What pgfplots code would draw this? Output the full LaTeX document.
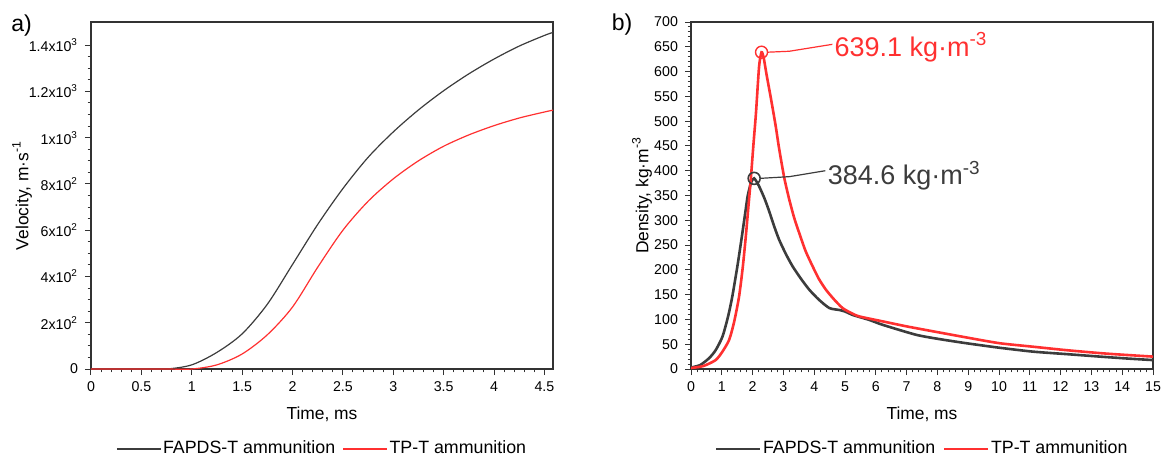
\documentclass[border=0pt]{standalone}
\usepackage{fontspec}
\setmainfont{Liberation Sans}
\usepackage{pgfplots}
\pgfplotsset{compat=1.18}
\definecolor{cblk}{HTML}{3C3C3C}
\definecolor{cred}{HTML}{FF3030}
\definecolor{caxis}{HTML}{333333}
\pgfplotsset{
  mystyle/.style={
    scale only axis, width=231pt, height=173.5pt,
    axis line style={caxis, line width=0.6pt},
    tick style={caxis, line width=0.5pt},
    tick align=outside,
    xtick pos=bottom, ytick pos=left,
    major tick length=3pt, minor tick length=1.7pt,
    tick label style={font=\fontsize{7.1}{8}\selectfont},
    /pgf/number format/assume math mode=true,
    label style={font=\fontsize{8.7}{10}\selectfont},
    xlabel style={at={(axis description cs:0.5,-0.13)}, anchor=center},
    legend columns=2,
    legend style={at={(axis description cs:0.5,-0.2305)}, anchor=center,
      draw=none, fill=none, font=\fontsize{8.9}{10}\selectfont,
      nodes={inner xsep=0.8pt, inner ysep=1pt},
      /tikz/every even column/.append style={column sep=3pt}},
    legend image code/.code={\draw[##1] (0pt,0pt) -- (22pt,0pt);},
  }
}
\begin{document}
\begin{tikzpicture}
\path[use as bounding box] (-45.5pt,-44pt) rectangle (535.5pt,184.5pt);
\begin{axis}[mystyle, at={(0pt,0pt)}, anchor=south west,
  xmin=0, xmax=4.585, ymin=0, ymax=1500,
  xtick={0,0.5,1,1.5,2,2.5,3,3.5,4,4.5}, minor x tick num=4,
  ytick={0,200,400,600,800,1000,1200,1400}, minor y tick num=3,
  yticklabels={0, 2x10\textsuperscript{2}, 4x10\textsuperscript{2}, 6x10\textsuperscript{2}, 8x10\textsuperscript{2}, 1x10\textsuperscript{3}, 1.2x10\textsuperscript{3}, 1.4x10\textsuperscript{3}},
  xlabel={Time, ms}, ylabel={Velocity, m·s\textsuperscript{-1}},
  ylabel style={at={(axis description cs:-0.149,0.5)}, anchor=center},
]
\addplot[cblk, line width=0.6pt, smooth, tension=0.5] coordinates {
(0,0) (0.25,0) (0.5,0) (0.75,0) (1.0,18) (1.25,72) (1.5,152) (1.75,280) (2.0,452) (2.25,625)
(2.5,780) (2.75,915) (3.0,1025) (3.25,1120) (3.5,1203) (3.75,1276) (4.0,1340)
(4.25,1396) (4.5,1442) (4.585,1455)};
\addlegendentry{FAPDS-T ammunition}
\addplot[cred, line width=0.6pt, smooth, tension=0.5] coordinates {
(0,0) (0.25,0) (0.5,0) (0.75,0) (1.0,0) (1.25,18) (1.5,65) (1.75,148) (2.0,268) (2.25,440) (2.5,600)
(2.75,725) (3.0,822) (3.25,900) (3.5,963) (3.75,1012) (4.0,1052) (4.25,1085)
(4.5,1111) (4.585,1119)};
\addlegendentry{TP-T ammunition}
\end{axis}
\begin{axis}[mystyle, at={(300pt,0pt)}, anchor=south west,
  xmin=0, xmax=15, ymin=0, ymax=700,
  xtick={0,1,...,15}, minor x tick num=4,
  ytick={0,50,...,700}, minor y tick num=4,
  xlabel={Time, ms}, ylabel={Density, kg·m\textsuperscript{-3}},
  ylabel style={at={(axis description cs:-0.106,0.5)}, anchor=center},
]
\addplot[cblk, line width=1.3pt, smooth, tension=0.4] coordinates {
(0,3) (0.3,8) (0.59,22) (0.8,38) (1.02,65) (1.2,105) (1.34,146) (1.5,205) (1.62,254)
(1.75,310) (1.84,349) (1.95,376) (2.05,384.6) (2.2,370) (2.38,345) (2.54,318) (2.7,288)
(2.86,261) (3.08,232) (3.3,207) (3.56,183) (3.84,160) (4.15,140) (4.49,123) (4.82,119)
(5.0,116) (5.25,109) (5.79,99) (6.23,89) (7.31,69) (8.1,60) (8.94,52) (10,43) (11.11,35)
(12.2,30) (13.28,25) (14.2,21) (15,18)};
\addlegendentry{FAPDS-T ammunition}
\addplot[cred, line width=1.3pt, smooth, tension=0.4] coordinates {
(0,2) (0.4,6) (0.8,18) (1.02,35) (1.24,59) (1.4,95) (1.56,146) (1.68,205) (1.78,268)
(1.86,325) (1.94,382) (2.03,455) (2.11,517) (2.21,610) (2.29,639.1) (2.36,628) (2.45,595)
(2.6,544) (2.75,490) (2.86,445) (3.03,385) (3.19,342) (3.35,305) (3.51,275) (3.72,238)
(3.95,207) (4.15,182) (4.38,160) (4.65,140) (4.92,123) (5.2,113) (5.47,106) (6.23,96)
(7,86) (7.86,76) (9,63) (10.02,52) (11.1,45) (12.19,38) (13.5,31) (15,25)};
\addlegendentry{TP-T ammunition}
\addplot[cred, only marks, mark=o, mark size=3pt, mark options={line width=0.7pt}, forget plot] coordinates {(2.29,639.1)};
\addplot[cblk, only marks, mark=o, mark size=3pt, mark options={line width=0.8pt}, forget plot] coordinates {(2.05,384.6)};
\draw[cred, line width=0.6pt] (axis cs:2.29,639.1) ++(3pt,0pt) -- (axis cs:3.19,641) -- (axis cs:4.59,655);
\draw[cblk, line width=0.6pt] (axis cs:2.05,384.6) ++(3pt,0pt) -- (axis cs:3.19,388) -- (axis cs:4.36,400);
\node[anchor=base west, inner sep=0pt, text=cred, font=\fontsize{13.5}{15}\selectfont] at (axis cs:4.65,631) {639.1 kg·m\textsuperscript{-3}};
\node[anchor=base west, inner sep=0pt, text=cblk, font=\fontsize{13.5}{15}\selectfont] at (axis cs:4.43,372) {384.6 kg·m\textsuperscript{-3}};
\end{axis}
\node[font=\fontsize{11.5}{13}\selectfont] at (-34.75pt,171.5pt) {a)};
\node[font=\fontsize{11.5}{13}\selectfont] at (265.5pt,172pt) {b)};
\end{tikzpicture}
\end{document}
